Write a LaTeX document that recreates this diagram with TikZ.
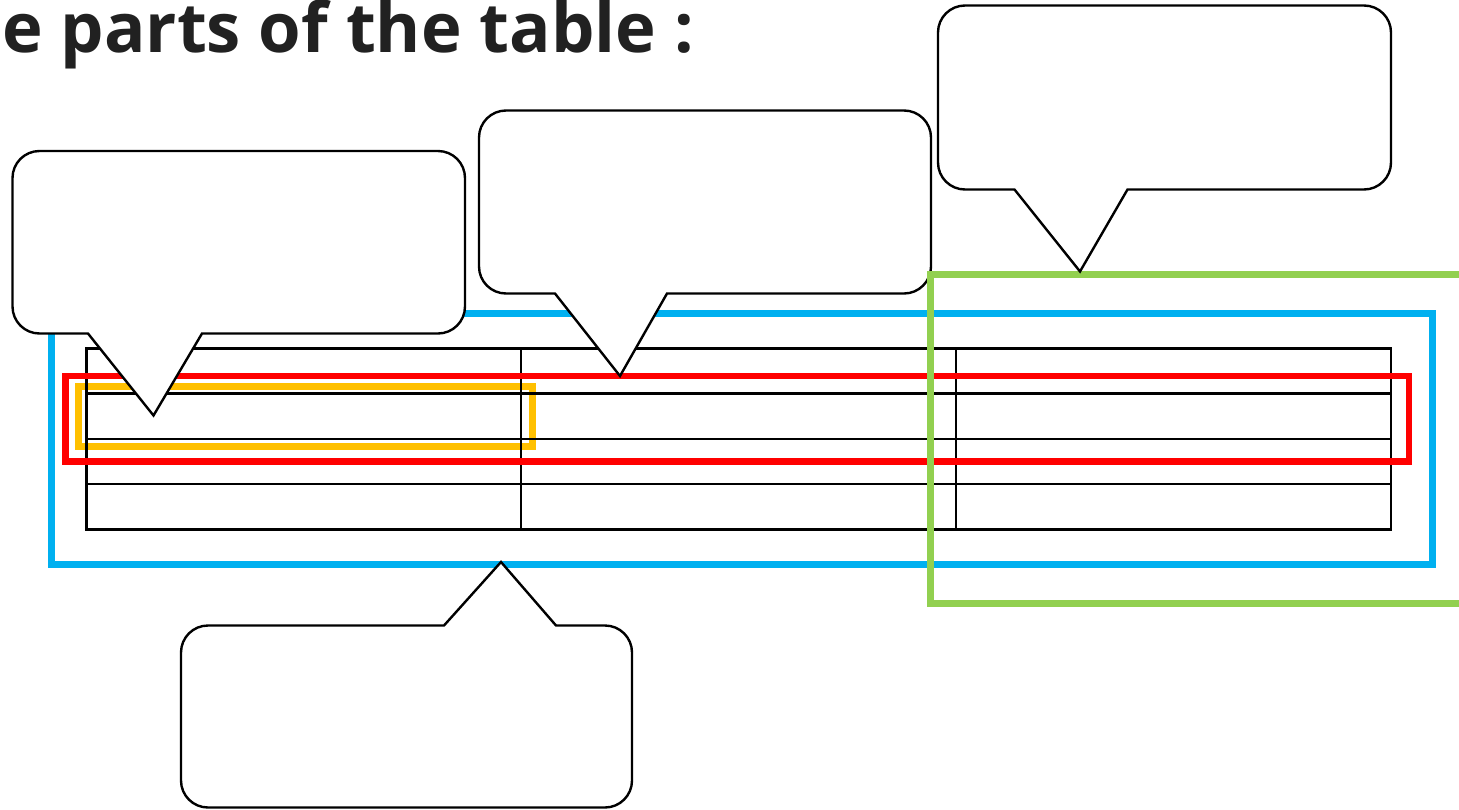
\documentclass[tikz,border=0pt]{standalone}
\usepackage{fontspec}
\newfontfamily\titlefont{Open Sans}
\definecolor{titlegray}{RGB}{33,33,33}
\definecolor{fred}{RGB}{255,0,0}
\definecolor{fblue}{RGB}{0,176,240}
\definecolor{fgreen}{RGB}{146,208,80}
\definecolor{fyellow}{RGB}{255,192,0}
\newcommand\bubbledown[8]{% L T R B baseL baseR tipx tipy
  \draw[bubble] (#1+27,#2) -- (#3-27,#2) arc[start angle=90,end angle=0,radius=27pt]
    -- (#3,#4-27) arc[start angle=0,end angle=-90,radius=27pt]
    -- (#6,#4) -- (#7,#8) -- (#5,#4) -- (#1+27,#4)
    arc[start angle=-90,end angle=-180,radius=27pt]
    -- (#1,#2+27) arc[start angle=180,end angle=90,radius=27pt] -- cycle;}
\newcommand\bubbleup[8]{% L T R B baseL baseR tipx tipy
  \draw[bubble] (#1+27,#2) -- (#5,#2) -- (#7,#8) -- (#6,#2) -- (#3-27,#2) arc[start angle=90,end angle=0,radius=27pt]
    -- (#3,#4-27) arc[start angle=0,end angle=-90,radius=27pt]
    -- (#1+27,#4)
    arc[start angle=-90,end angle=-180,radius=27pt]
    -- (#1,#2+27) arc[start angle=180,end angle=90,radius=27pt] -- cycle;}
\begin{document}
\begin{tikzpicture}[x=1pt,y=-1pt,
  bubble/.style={draw=black,fill=white,line width=2.4pt,line join=miter},
  tableline/.style={draw=black,line width=2.3pt},
  frame/.style={line width=7pt}]
\useasboundingbox (0,0) rectangle (1459,809);
\clip (0,0) rectangle (1459,809);
\fill[white] (0,0) rectangle (1459,809);
% title
\node[anchor=base west,inner sep=0pt,text=titlegray,font=\titlefont\bfseries\fontsize{68.8}{80}\selectfont] (title) at (2,52) {e parts of the table :};
% yellow frame (one cell)
\draw[fyellow,line width=7pt] (78,386.5) rectangle (532,446.5);
% table
\draw[tableline] (86.5,348.5) rectangle (1391,529.5);
\foreach \yy in {393.5,439,484} \draw[tableline] (86.5,\yy) -- (1391,\yy);
\foreach \xx in {521,956} \draw[tableline] (\xx,348.5) -- (\xx,529.5);
% red frame (row)
\draw[fred,line width=6.5pt] (65.5,376) rectangle (1409,461.5);
% blue frame (table)
\draw[fblue,frame] (51.5,313) rectangle (1432.5,564);
% callouts
\bubbledown{12.5}{151}{465}{333.5}{88}{202}{153.5}{415.5}
\bubbledown{479}{110.5}{931}{293.5}{555}{667}{620}{376}
\bubbleup{181}{625.5}{632}{807.5}{444}{556}{501}{562}
% green frame (column)
\draw[fgreen,frame] (930.5,274) rectangle (1490,603);
\bubbledown{938}{5.5}{1391}{189.5}{1014.5}{1127.5}{1080}{271.5}
\end{tikzpicture}
\end{document}
